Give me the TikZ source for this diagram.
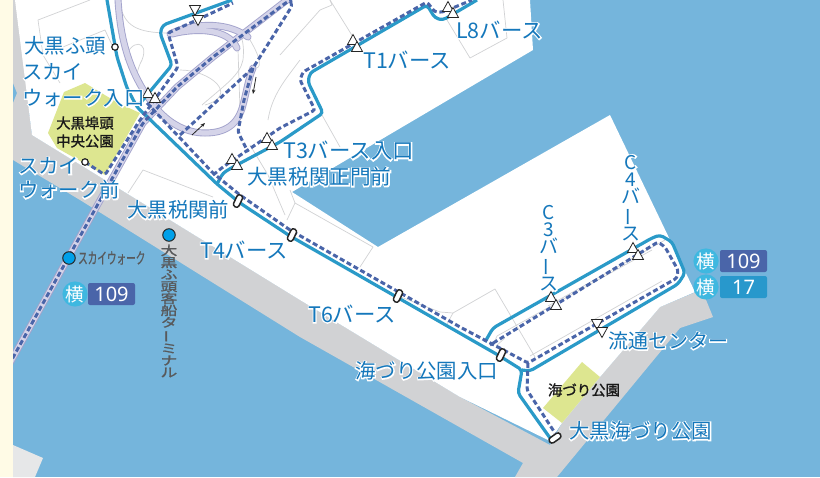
\documentclass[tikz,border=0pt]{standalone}
\usepackage{fontspec}
\setmainfont{Noto Sans CJK JP}
\newfontfamily\halofont[FakeBold=10]{Noto Sans CJK JP}
\newfontfamily\semifont[FakeBold=1.2]{Noto Sans CJK JP}
\newfontfamily\numfont{Noto Sans}
\usetikzlibrary{arrows.meta}
\definecolor{cream}{HTML}{FFFBE6}
\definecolor{sea}{HTML}{75B5DC}
\definecolor{road}{HTML}{D1D2D4}
\definecolor{lightland}{HTML}{E6E7E8}
\definecolor{parkc}{HTML}{DDE690}
\definecolor{teal}{HTML}{2A9AC8}
\definecolor{navy}{HTML}{4A65A9}
\definecolor{lilac}{HTML}{D5D4E9}
\definecolor{lilacedge}{HTML}{A3A3CC}
\definecolor{labelc}{HTML}{1477BB}
\definecolor{greytext}{HTML}{58595B}
\definecolor{yokoc}{HTML}{3FB8E0}
\definecolor{badgetwo}{HTML}{2898CC}
\definecolor{dotblue}{HTML}{00A0E9}
\newcommand{\lab}[1]{\makebox[0pt][l]{\color{white}\halofont #1}#1}
\newcommand{\vbar}{\rotatebox[origin=c]{90}{ー}}
\tikzset{
  x=1pt,y=-1pt,
  thinroad/.style={draw=road,line width=0.7pt,line join=round},
  lilacout/.style={draw=lilacedge,line width=7pt,line cap=round,line join=round},
  lilacin/.style={draw=lilac,line width=5.2pt,line cap=round,line join=round},
  solidroute/.style={draw=teal,line width=3.2pt,rounded corners=3.5pt},
  dashroute/.style={draw=navy,line width=3pt,dash pattern=on 5pt off 2.8pt,rounded corners=2.5pt},
  tri/.style={draw=black!85,fill=white,line width=0.8pt,line join=miter},
  capsule/.style={draw=black!85,fill=white,line width=1.5pt,rounded corners=2.8pt,minimum width=6pt,minimum height=13pt,inner sep=0pt},
  smalldot/.style={circle,draw=black!85,fill=white,line width=1.2pt,minimum size=6.5pt,inner sep=0pt},
  bluedot/.style={circle,draw=black!85,fill=dotblue,line width=1pt,minimum size=12.5pt,inner sep=0pt},
  lbl/.style={text=labelc,inner sep=0pt,anchor=west,align=left,font=\fontsize{20.4}{24}\selectfont},
  wlbl/.style={text=labelc,inner sep=0pt,anchor=west,align=left,font=\fontsize{21.4}{24}\selectfont},
  vlbl/.style={text=labelc,inner sep=0pt,align=center,font=\fontsize{19}{17.2}\selectfont},
  blk/.style={text=black!90,inner sep=0pt,align=center,font=\semifont\fontsize{14.4}{18}\selectfont},
  yoko/.style={circle,fill=yokoc,text=white,minimum size=22pt,inner sep=0pt,font=\fontsize{18.5}{20}\selectfont},
  badge/.style={rounded corners=2pt,text=white,minimum width=47pt,minimum height=22pt,inner sep=0pt,font=\numfont\fontsize{20}{22}\selectfont},
}
\begin{document}
\begin{tikzpicture}
\useasboundingbox (0,0) rectangle (820,477);
\fill[sea] (13,0) rectangle (820,477);
% grey land
\fill[road] (13,0) -- (16,0) -- (32,135) -- (300,300) -- (460,397) -- (550,445) -- (562,423) -- (600,377) -- (660,307) -- (696,292) -- (702,290) -- (713,317) -- (680,328) -- (557,477) -- (515,477) -- (523,463) -- (300,337) -- (80,200) -- (13,160) -- (13,103) -- (17,93) -- (13,83) -- cycle;
% white land
\fill[white] (15,0) -- (530,0) -- (533,50) -- (292,192) -- (378,247) -- (610,115) -- (695,292) -- (660,307) -- (600,377) -- (562,423) -- (550,441) -- (460,397) -- (300,300) -- (32,135) -- cycle;
\fill[lightland] (13,445) -- (43,458) -- (35,477) -- (13,477) -- cycle;
% parks
\fill[parkc] (85,83) -- (64,92) -- (48,133) -- (57,148) -- (105,175) -- (140,113) -- (118,103) -- cycle;
\fill[parkc] (582,362) -- (600,377) -- (562,423) -- (543,408) -- cycle;
% thin roads
\draw[thinroad] (90,0) -- (38,20) -- (43,55) -- (60,83);
\draw[thinroad] (43,55) -- (105,30) -- (112,45);
\draw[thinroad] (128,193) -- (143,170) -- (213,197);
\draw[thinroad] (280,55) -- (320,10) -- (332,5) -- (330,0);
\draw[thinroad] (330,0) -- (353,37);
\draw[thinroad] (447,20) -- (470,58) -- (507,38) -- (503,0);
\draw[thinroad] (322,115) -- (340,147);
\draw[thinroad] (290,190) -- (295,203) -- (287,220);
\draw[thinroad] (295,203) -- (373,247) -- (360,267);
\draw[thinroad] (398,296) -- (440,312) -- (453,313) -- (495,289) -- (535,357);
\draw[thinroad] (453,313) -- (447,324);
\draw[thinroad] (496,346) -- (505,338);
\draw[thinroad] (120,5) .. controls (125,25) and (135,33) .. (170,33);
\draw[thinroad] (125,60) .. controls (130,38) and (150,40) .. (142,60) .. controls (134,75) and (136,85) .. (145,95);
\draw[thinroad] (180,70) .. controls (210,70) and (240,95) .. (205,105);
\draw[thinroad] (202,105) .. controls (225,85) and (240,75) .. (243,60) .. controls (245,40) and (240,35) .. (238,30);
\draw[thinroad] (250,40) .. controls (262,60) and (262,70) .. (253,68);
\draw[thinroad] (268,120) .. controls (272,95) and (285,80) .. (300,60);
\draw[thinroad] (238,50) -- (240,110);
\draw[thinroad] (250,145) -- (268,175) -- (285,215);
\draw[thinroad] (548,306) -- (665,240);
\draw[thinroad] (530,356) -- (662,281);
\draw[thinroad] (493,345) -- (497,336) -- (652,250);
% lilac skywalk
\foreach \st in {lilacout,lilacin}{
  \draw[\st] (5,372) -- (78,240) -- (113,177) -- (143,123) -- (177,87) -- (213,57) -- (287,0);
  \draw[\st] (118,0) .. controls (120,30) and (125,65) .. (150,100) .. controls (165,122) and (185,133) .. (205,133) .. controls (225,133) and (238,125) .. (243,105) .. controls (247,90) and (248,80) .. (253,68);
  \draw[\st] (170,34) .. controls (190,24) and (225,20) .. (248,37);
  \draw[\st] (172,34) .. controls (195,28) and (228,28) .. (237,48);
}
% solid routes
\draw[solidroute] (107,0) -- (117,57) -- (127,88) -- (137,107) -- (217,184) -- (240,203) -- (290,236) -- (498,355) -- (522,370) -- (518,393) -- (550,438);
\draw[solidroute] (522,370) -- (530,371) -- (678,284) -- (685,273) -- (672,242) -- (660,235) -- (652,238) -- (493,328) -- (485,342);
\draw[solidroute] (137,107) -- (172,65) -- (160,33) -- (163,25) -- (232,0);
\draw[solidroute] (217,184) -- (223,173) -- (233,167) -- (280,142) -- (323,113) -- (308,82) -- (310,73) -- (427,5) -- (435,18) -- (443,20) -- (477,0);
% dashed routes
\draw[dashroute] (5,372) -- (78,240) -- (113,177) -- (143,123) -- (177,87) -- (213,57) -- (287,2) -- (292,0);
\draw[dashroute] (85,162) -- (105,175) -- (138,123) -- (178,67) -- (168,33) -- (197,20) -- (233,3);
\draw[dashroute] (147,103) -- (213,173) -- (240,195) -- (290,230) -- (460,327) -- (528,363) -- (677,278) -- (678,270) -- (665,247) -- (658,242) -- (490,345);
\draw[dashroute] (528,363) -- (527,390) -- (555,433);
\draw[dashroute] (213,175) -- (223,167) -- (280,128) -- (315,110) -- (300,80) -- (303,72) -- (427,2) -- (435,12) -- (443,12) -- (472,0);
\draw[dashroute] (180,135) -- (253,68) -- (292,6) -- (290,0);
\draw[dashroute] (253,68) -- (244,100) -- (238,132) -- (248,152);
% page margin strip
\fill[cream] (0,0) rectangle (13,477);
% arrows
\draw[-{Stealth[length=4.5pt,width=3.5pt]},black!85,line width=0.8pt] (192,135) -- (205,123);
\draw[-{Stealth[length=4.5pt,width=3.5pt]},black!85,line width=0.8pt] (256,77) -- (253,94);
% triangle stops: up
\foreach \px/\py in {148/93,155/98,353/40,357/47,448/7,453/13,267/138,272/145,232/159,237/165,551/297,556/305,633/248,638/255}{
  \draw[tri] (\px,\py-5.5) -- (\px+5.5,\py+4.5) -- (\px-5.5,\py+4.5) -- cycle;
}
% triangle stops: down
\foreach \px/\py in {195/10,198/20,597/324,602/332}{
  \draw[tri] (\px,\py+5.5) -- (\px+5.5,\py-4.5) -- (\px-5.5,\py-4.5) -- cycle;
}
% capsule stops
\node[capsule,rotate=-25] (s1) at (238,201) {};
\node[capsule,rotate=-25] (s2) at (292,235) {};
\node[capsule,rotate=-25] (s3) at (398,296) {};
\node[capsule,rotate=-25] (s4) at (501,355) {};
\node[capsule,rotate=-55] (s5) at (555,438) {};
\node[smalldot] (d1) at (115,47) {};
\node[smalldot] (d2) at (85,162) {};
\node[bluedot] (b1) at (169,235) {};
\node[bluedot] (b2) at (69,258) {};
% labels
\node[lbl] (t1) at (24,46) {\lab{大黒ふ頭}};
\node[lbl] (t2) at (22,72) {\lab{スカイ}};
\node[lbl] (t3) at (22,98) {\lab{ウォーク入口}};
\node[lbl] (t4) at (18,166) {\lab{スカイ}};
\node[lbl] (t5) at (18,190) {\lab{ウォーク前}};
\node[lbl] (t6) at (127,210) {\lab{大黒税関前}};
\node[wlbl] (t7) at (200,250) {\lab{T4バース}};
\node[wlbl] (t8) at (308,314) {\lab{T6バース}};
\node[lbl] (t9) at (355,371) {\lab{海づり公園入口}};
\node[lbl] (t10) at (569,431) {\lab{大黒海づり公園}};
\node[lbl,font=\fontsize{20}{24}\selectfont] (t11) at (608,341) {\lab{流通センター}};
\node[wlbl] (t12) at (283,151) {\lab{T3バース入口}};
\node[lbl,font=\fontsize{20.6}{24}\selectfont] (t13) at (247,177) {\lab{大黒税関正門前}};
\node[wlbl] (t14) at (363,60) {\lab{T1バース}};
\node[wlbl] (t15) at (456,30) {\lab{L8バース}};
\node[vlbl] (t16) at (549,248) {\lab{C}\\\lab{3}\\\lab{バ}\\\vbar\\\lab{ス}};
\node[vlbl] (t17) at (631,198) {\lab{C}\\\lab{4}\\\lab{バ}\\\vbar\\\lab{ス}};
\node[blk] (t18) at (85,132) {大黒埠頭\\中央公園};
\node[blk] (t19) at (584,390) {海づり公園};
% grey texts
\node[inner sep=0pt,text=greytext,align=center,xscale=1.35,font=\semifont\fontsize{12.4}{12}\selectfont,transform shape] (t20) at (169,311) {大\\黒\\ふ\\頭\\客\\船\\タ\\\rotatebox[origin=c]{90}{ー}\\ミ\\ナ\\ル};
\node[inner sep=0pt,text=greytext,xscale=0.62,font=\semifont\fontsize{15.5}{16}\selectfont,transform shape,anchor=west] (t21) at (78,258) {スカイウォーク};
% badges
\node[yoko] (y1) at (75,294) {横};
\node[badge,fill=navy] (n1) at (111.5,294) {109};
\node[yoko] (y2) at (706,261) {横};
\node[badge,fill=navy] (n2) at (743.5,261) {109};
\node[yoko] (y3) at (706,287) {横};
\node[badge,fill=badgetwo] (n3) at (743.5,287) {17};
\end{tikzpicture}
\end{document}
